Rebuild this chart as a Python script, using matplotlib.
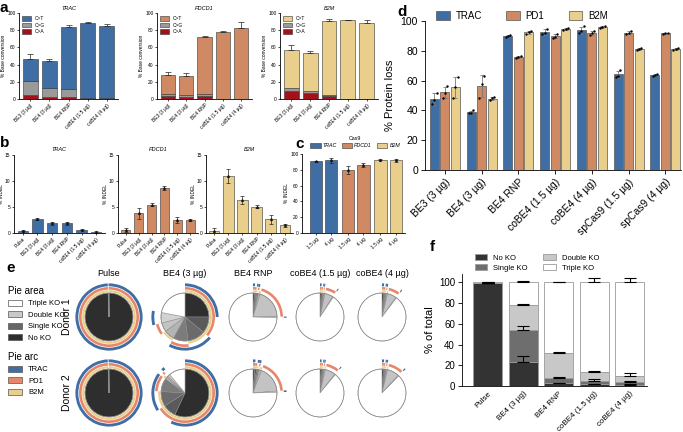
import numpy as np
import matplotlib
matplotlib.use("Agg")
import matplotlib.pyplot as plt
from matplotlib.patches import Wedge, Circle, Patch

plt.rcParams["font.family"] = ["Liberation Sans", "DejaVu Sans"]
plt.rcParams["axes.linewidth"] = 0.6

BLUE = "#3f6ea5"
ORANGE = "#cf8a63"
TAN = "#e9cf8b"
GRAY = "#9a9a9a"
RED = "#a3121a"

# ---- panel a: base conversion ----
a_groups = ["BE3 (3 µg)", "BE4 (3 µg)", "BE4 RNP", "coBE4 (1.5 µg)", "coBE4 (4 µg)"]
a_trac_ca = [5, 3, 3, 0.5, 0.8]
a_trac_cg = [16, 10, 9, 1.0, 0.5]
a_trac_ct = [25, 31, 72, 86.5, 83.7]
a_trac_err = [6, 3, 2, 1, 1.5]
a_pdcd1_ca = [4, 3, 4, 0.5, 0.5]
a_pdcd1_cg = [2.5, 2, 2, 0.3, 0.3]
a_pdcd1_ct = [21.5, 22, 66, 77.2, 81.2]
a_pdcd1_err = [4, 3, 1, 0.5, 7]
a_b2m_ca = [10, 7, 4.3, 0.5, 0.5]
a_b2m_cg = [3.5, 3, 0.8, 0.2, 0.2]
a_b2m_ct = [43, 43, 85.5, 90.7, 87.3]
a_b2m_err = [6, 2.5, 2.5, 0.4, 4]

# ---- panel b: indels ----
b_groups = ["Pulse", "BE3 (3 µg)", "BE4 (3 µg)", "BE4 RNP", "coBE4 (1.5 µg)", "coBE4 (4 µg)"]
b_trac = [0.45, 2.75, 1.9, 1.9, 0.7, 0.3]
b_trac_err = [0.1, 0.2, 0.3, 0.3, 0.1, 0.15]
b_pdcd1 = [0.6, 3.8, 5.5, 8.7, 2.5, 2.5]
b_pdcd1_err = [0.4, 1.0, 0.3, 0.4, 0.6, 0.2]
b_b2m = [0.5, 11.0, 6.4, 5.1, 2.7, 1.5]
b_b2m_err = [0.6, 1.3, 0.7, 0.3, 0.9, 0.3]

# ---- panel c: Cas9 indels ----
c_labels = ["1.5 µg", "4 µg", "1.5 µg", "4 µg", "1.5 µg", "4 µg"]
c_vals = [91, 92, 80, 86, 93, 92]
c_err = [0.5, 3, 5, 2.5, 1, 2]

# ---- panel d: protein loss (3 donors) ----
d_groups = ["BE3 (3 µg)", "BE4 (3 µg)", "BE4 RNP", "coBE4 (1.5 µg)",
            "coBE4 (4 µg)", "spCas9 (1.5 µg)", "spCas9 (4 µg)"]
d_trac = [[44, 47, 52], [38, 38.5, 40], [89.5, 90, 90.5], [91, 92, 94.5],
          [92, 93, 96.5], [62.5, 63, 67], [63, 63.5, 64.3]]
d_pd1 = [[48.5, 51.5, 56.2], [48.5, 57.5, 63.2], [75, 75.6, 76.2], [88.5, 89.5, 91.5],
         [90.5, 92, 93.5], [91.5, 92.2, 93], [91.5, 91.7, 91.9]]
d_b2m = [[48.5, 55.5, 62.6], [47, 48, 48.7], [91.5, 92.4, 93.3], [93.8, 94.6, 95.4],
         [95, 95.7, 96.5], [80.5, 81.2, 82], [80.5, 81.2, 82]]

# ---- panel e: pie fractions [none, T, P, B, TP, TB, PB, TPB] ----
e_conditions = ["Pulse", "BE4 (3 µg)", "BE4 RNP", "coBE4 (1.5 µg)", "coBE4 (4 µg)"]
e_donor1 = [[99.4, 0.1, 0.1, 0.1, 0.1, 0.05, 0.05, 0.1],
            [25, 11, 12, 10, 7, 6, 7, 22],
            [1.0, 1.0, 0.8, 0.8, 1.2, 20, 0.6, 74.6],
            [0.8, 0.8, 0.5, 0.5, 0.8, 5.5, 0.5, 90.6],
            [1.0, 0.8, 0.6, 0.6, 0.8, 6.0, 0.5, 89.7]]
e_donor2 = [[99.4, 0.1, 0.1, 0.1, 0.1, 0.05, 0.05, 0.1],
            [57, 9, 10, 9, 1.5, 1, 1.5, 11],
            [1.2, 1.2, 1.0, 0.8, 1.5, 18, 0.8, 75.5],
            [0.8, 0.8, 0.6, 0.6, 0.8, 7.0, 0.5, 88.9],
            [1.0, 0.8, 0.6, 0.6, 0.8, 8.0, 0.6, 87.6]]
e_combos = [(), ("T",), ("P",), ("B",), ("T", "P"), ("T", "B"), ("P", "B"), ("T", "P", "B")]

# ---- panel f: KO categories ----
f_groups = ["Pulse", "BE4 (3 µg)", "BE4 RNP", "coBE4 (1.5 µg)", "coBE4 (4 µg)"]
f_no = [99.5, 23, 2.5, 1.5, 1.3]
f_single = [0.2, 31, 5.5, 3.5, 2.5]
f_double = [0.1, 24, 24, 8.4, 6.2]
f_triple = [0.2, 22, 68, 86.6, 90]
f_no_err = [0.3, 6, 0.5, 0.3, 0.3]
f_single_err = [0, 4, 0.7, 1.5, 1.2]
f_double_err = [0, 1, 0.5, 1.5, 2.5]
f_triple_err = [0, 1, 0.3, 4, 4]

W, H = 683, 432
fig = plt.figure(figsize=(W / 100, H / 100), dpi=100)


def px_axes(x0, y0, x1, y1):
    return fig.add_axes([x0 / W, 1 - y1 / H, (x1 - x0) / W, (y1 - y0) / H])


def style(ax, fs):
    ax.spines["top"].set_visible(False)
    ax.spines["right"].set_visible(False)
    ax.tick_params(labelsize=fs, length=1.5, width=0.5, pad=1)


def label(x, y, s):
    fig.text(x / W, 1 - y / H, s, fontsize=11, fontweight="bold", va="center", ha="left")


# panel a
a_sets = [("TRAC", a_trac_ca, a_trac_cg, a_trac_ct, a_trac_err, BLUE, (19, 118)),
          ("PDCD1", a_pdcd1_ca, a_pdcd1_cg, a_pdcd1_ct, a_pdcd1_err, ORANGE, (157, 252)),
          ("B2M", a_b2m_ca, a_b2m_cg, a_b2m_ct, a_b2m_err, TAN, (280, 378))]
for title, ca, cg, ct, err, color, (x0, x1) in a_sets:
    ax = px_axes(x0, 12.7, x1, 99.3)
    x = np.arange(len(a_groups))
    low = np.add(ca, cg)
    tot = low + np.array(ct)
    ax.bar(x, ca, 0.78, color=RED, edgecolor="#333333", lw=0.4)
    ax.bar(x, cg, 0.78, bottom=ca, color=GRAY, edgecolor="#333333", lw=0.4)
    ax.bar(x, ct, 0.78, bottom=low, color=color, edgecolor="#333333", lw=0.4, label="C>T")
    ax.errorbar(x, tot, yerr=[np.zeros(5), err], fmt="none", ecolor="#222222",
                elinewidth=0.5, capsize=2, capthick=0.5)
    ax.set_xlim(-0.6, 4.6)
    ax.set_ylim(0, 100)
    ax.set_yticks(range(0, 101, 20))
    ax.set_xticks(x)
    ax.set_xticklabels(a_groups, rotation=45, ha="right", rotation_mode="anchor")
    ax.set_ylabel("% Base conversion", fontsize=3.5, labelpad=1)
    ax.set_title(title, fontsize=4, style="italic", pad=2)
    style(ax, 3.5)
    handles = [Patch(facecolor=color, edgecolor="#333333", lw=0.4),
               Patch(facecolor=GRAY, edgecolor="#333333", lw=0.4),
               Patch(facecolor=RED, edgecolor="#333333", lw=0.4)]
    ax.legend(handles, ["C>T", "C>G", "C>A"], loc="upper left", fontsize=3.5, frameon=False,
              handlelength=1.8, handleheight=1.0, borderaxespad=0.3, labelspacing=0.3)

# panel b
b_sets = [("TRAC", b_trac, b_trac_err, BLUE, (14, 105)),
          ("PDCD1", b_pdcd1, b_pdcd1_err, ORANGE, (118, 198)),
          ("B2M", b_b2m, b_b2m_err, TAN, (206, 293))]
for title, vals, err, color, (x0, x1) in b_sets:
    ax = px_axes(x0, 155, x1, 233.3)
    x = np.arange(len(b_groups))
    ax.bar(x, vals, 0.72, color=color, edgecolor="#333333", lw=0.4)
    ax.errorbar(x, vals, yerr=err, fmt="^", ms=1.2, color="#111111", ecolor="#222222",
                elinewidth=0.5, capsize=1.5, capthick=0.5)
    ax.set_xlim(-0.6, 5.6)
    ax.set_ylim(0, 15)
    ax.set_yticks([0, 5, 10, 15])
    ax.set_xticks(x)
    ax.set_xticklabels(b_groups, rotation=45, ha="right", rotation_mode="anchor")
    ax.set_ylabel("% INDEL", fontsize=3.5, labelpad=1)
    ax.set_title(title, fontsize=4, style="italic", pad=3)
    style(ax, 3.5)

# panel c
ax = px_axes(302, 154, 405, 233)
cx = np.array([0, 1, 2.1, 3.1, 4.2, 5.2])
c_colors = [BLUE, BLUE, ORANGE, ORANGE, TAN, TAN]
ax.bar(cx, c_vals, 0.8, color=c_colors, edgecolor="#333333", lw=0.4)
ax.errorbar(cx, c_vals, yerr=c_err, fmt="^", ms=1.2, color="#111111", ecolor="#222222",
            elinewidth=0.5, capsize=1.5, capthick=0.5)
ax.set_xlim(-0.9, 5.8)
ax.set_ylim(0, 100)
ax.set_yticks(range(0, 101, 20))
ax.set_xticks(cx)
ax.set_xticklabels(c_labels, rotation=45, ha="right", rotation_mode="anchor")
ax.set_ylabel("% INDEL", fontsize=3.5, labelpad=1)
style(ax, 3.5)
handles = [Patch(facecolor=c, edgecolor="#333333", lw=0.4) for c in (BLUE, ORANGE, TAN)]
leg = fig.legend(handles, ["TRAC", "PDCD1", "B2M"], loc="center left",
                 bbox_to_anchor=(310 / W, 1 - 142 / H), ncol=3, fontsize=3.8, frameon=False,
                 handlelength=2.0, handleheight=0.9, columnspacing=0.9, handletextpad=0.4,
                 title="Cas9", title_fontsize=3.8, borderaxespad=0, borderpad=0)
for t in leg.get_texts():
    t.set_fontstyle("italic")

# panel d
ax = px_axes(425, 21, 681, 170)
gstride = 3.52
for gi, (gene, reps, color) in enumerate([("TRAC", d_trac, BLUE), ("PD1", d_pd1, ORANGE),
                                          ("B2M", d_b2m, TAN)]):
    xs = np.arange(len(d_groups)) * gstride + gi
    means = [np.mean(r) for r in reps]
    sds = [np.std(r, ddof=1) for r in reps]
    ax.bar(xs, means, 0.86, color=color, edgecolor="#555555", lw=0.5, label=gene, zorder=2)
    ax.errorbar(xs, means, yerr=sds, fmt="none", ecolor="#777777", elinewidth=0.6,
                capsize=1.5, capthick=0.6, zorder=3)
    for x, r in zip(xs, reps):
        ax.scatter(x + np.array([-0.22, 0.0, 0.22]), r, s=3, color="black", zorder=4, lw=0)
ax.set_xlim(-0.9, 6 * gstride + 2.5)
ax.set_ylim(0, 100)
ax.set_yticks(range(0, 101, 20))
ax.set_xticks(np.arange(len(d_groups)) * gstride + 1)
ax.set_xticklabels(d_groups, rotation=45, ha="right", rotation_mode="anchor")
ax.set_ylabel("% Protein loss", fontsize=8, labelpad=4)
style(ax, 7.5)
ax.tick_params(length=3, width=0.6, pad=2)
ax.legend(loc="center left", bbox_to_anchor=(432 / W, 1 - 16 / H), bbox_transform=fig.transFigure,
          ncol=3, fontsize=7, frameon=False, handlelength=1.4, handleheight=1.0,
          columnspacing=2.5, handletextpad=0.6, borderaxespad=0)

# panel e
shade = ["#2e2e2e", "#5a5a5a", "#6b6b6b", "#7c7c7c", "#b4b4b4", "#c3c3c3", "#d2d2d2", "white"]
rings = {"T": (1.28, 1.40, BLUE), "P": (1.14, 1.25, "#e8866a"), "B": (1.03, 1.12, TAN)}


def draw_pie(ax, fracs):
    total = sum(fracs)
    start = 0.0
    spans = []
    for f, col in zip(fracs, shade):
        end = start + f / total
        ax.add_patch(Wedge((0, 0), 1, 90 - 360 * end, 90 - 360 * start, facecolor=col,
                           edgecolor="#8a8a8a", lw=0.35))
        spans.append((start, end))
        start = end
    ax.add_patch(Circle((0, 0), 1, fill=False, edgecolor="#8a8a8a", lw=0.5))
    for gene, (r0, r1, col) in rings.items():
        for (s, e), combo in zip(spans, e_combos):
            if gene not in combo and e > s:
                ax.add_patch(Wedge((0, 0), r1, 90 - 360 * e, 90 - 360 * s, width=r1 - r0,
                                   facecolor=col, edgecolor="none"))
    ax.set_xlim(-1.5, 1.5)
    ax.set_ylim(-1.5, 1.5)
    ax.set_aspect("equal")
    ax.axis("off")


e_cx = [109, 185, 253, 320, 382]
for i, cond in enumerate(e_conditions):
    for cy, fr in ((317, e_donor1[i]), (393, e_donor2[i])):
        ax = px_axes(e_cx[i] - 36, cy - 36, e_cx[i] + 36, cy + 36)
        draw_pie(ax, fr)
    fig.text(e_cx[i] / W, 1 - 273 / H, cond, fontsize=6.5, ha="center", va="center")
fig.text(67 / W, 1 - 317 / H, "Donor 1", fontsize=7.5, rotation=90, ha="center", va="center")
fig.text(67 / W, 1 - 393 / H, "Donor 2", fontsize=7.5, rotation=90, ha="center", va="center")

area_h = [Patch(facecolor=c, edgecolor="#555555", lw=0.5) for c in ("white", "#c8c8c8", "#666666", "#2e2e2e")]
fig.legend(area_h, ["Triple KO", "Double KO", "Single KO", "No KO"], loc="upper left",
           bbox_to_anchor=(5 / W, 1 - 283 / H), fontsize=5.5, frameon=False,
           title="Pie area", title_fontsize=7, alignment="left", handlelength=1.8,
           handleheight=0.8, labelspacing=0.5, borderaxespad=0)
arc_h = [Patch(facecolor=c, edgecolor="#555555", lw=0.5) for c in (BLUE, "#e8866a", TAN)]
fig.legend(arc_h, ["TRAC", "PD1", "B2M"], loc="upper left",
           bbox_to_anchor=(5 / W, 1 - 349 / H), fontsize=5.5, frameon=False,
           title="Pie arc", title_fontsize=7, alignment="left", handlelength=1.8,
           handleheight=0.8, labelspacing=0.5, borderaxespad=0)

# panel f
ax = px_axes(462, 274, 647, 386)
fx = np.arange(len(f_groups))
bottom = np.zeros(len(f_groups))
f_cols = ["#333333", "#6e6e6e", "#c8c8c8", "white"]
f_names = ["No KO", "Single KO", "Double KO", "Triple KO"]
for vals, errs, col, name in zip([f_no, f_single, f_double, f_triple],
                                 [f_no_err, f_single_err, f_double_err, f_triple_err],
                                 f_cols, f_names):
    ax.bar(fx, vals, 0.82, bottom=bottom, color=col, edgecolor="#9a9a9a", lw=0.6, label=name)
    top = bottom + np.array(vals)
    ax.errorbar(fx, top, yerr=[np.zeros(len(fx)), errs], fmt="none", ecolor="black",
                elinewidth=0.8, capsize=4, capthick=0.8)
    bottom = top
ax.set_xlim(-0.72, 4.49)
ax.set_ylim(0, 108)
ax.set_yticks(range(0, 101, 20))
ax.set_xticks(fx)
ax.set_xticklabels(f_groups, rotation=45, ha="right", rotation_mode="anchor")
ax.set_ylabel("% of total", fontsize=8, labelpad=3)
style(ax, 7)
ax.tick_params(axis="y", length=3, width=0.6, pad=2)
ax.tick_params(axis="x", length=0, pad=3, labelsize=5.8)
hh, ll = ax.get_legend_handles_labels()
fig.legend(hh, ll, loc="upper left", bbox_to_anchor=(472 / W, 1 - 251 / H), ncol=2,
           fontsize=5.5, frameon=False, handlelength=1.6, handleheight=0.8,
           columnspacing=2.0, labelspacing=0.3, borderaxespad=0)

label(0, 8, "a")
label(0, 143, "b")
label(295, 144, "c")
label(397, 12, "d")
label(6, 268, "e")
label(430, 247, "f")

fig.savefig("out.png", dpi=100)
